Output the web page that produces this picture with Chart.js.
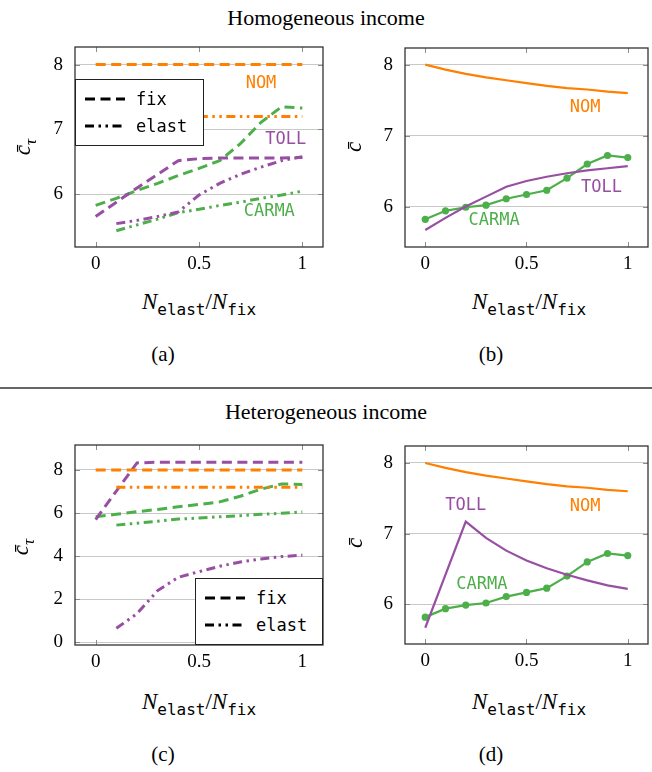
<!DOCTYPE html>
<html>
<head>
<meta charset="utf-8">
<script src="https://cdn.jsdelivr.net/npm/chart.js@4.4.0/dist/chart.umd.min.js"></script>
<style>
    body { margin: 0; width: 652px; height: 772px; position: relative; overflow: hidden; background: #fff;
           font-family: "Liberation Serif", "Times New Roman", serif; color: #000; }
    canvas { position: absolute; }
    .txt { position: absolute; white-space: nowrap; text-align: center; line-height: 1; }
    .title { left: 0; width: 652px; font-size: 22px; }
    .ylab { width: 60px; height: 26px; font-size: 23px; font-style: italic; transform: rotate(-90deg); }
    .ylab sub { font-size: 17px; }
    .xlab { width: 200px; font-size: 23px; }
    .xlab i { font-style: italic; }
    .xlab sub { font-family: "DejaVu Sans Mono", monospace; font-size: 16px; }
    .cap { width: 60px; font-size: 21px; }
    .rule { position: absolute; left: 0; width: 652px; top: 387px; height: 2px; background: #666; }
    .legend { position: absolute; background: #fff; border: 1px solid #222; box-sizing: border-box; }
</style>
</head>
<body>

<div class="txt title" style="top:7px">Homogeneous income</div>
<div class="txt title" style="top:401px">Heterogeneous income</div>
<div class="rule"></div>

<canvas id="chartA" width="330" height="280" style="left:0;top:0"></canvas>
<canvas id="chartB" width="322" height="280" style="left:330px;top:0"></canvas>
<canvas id="chartC" width="330" height="280" style="left:0;top:400px"></canvas>
<canvas id="chartD" width="322" height="280" style="left:330px;top:400px"></canvas>

<div class="txt ylab" style="left:-6px;top:134px">c&#772;<sub>τ</sub></div>
<div class="txt ylab" style="left:325px;top:134px">c&#772;</div>
<div class="txt ylab" style="left:-8px;top:534px">c&#772;<sub>τ</sub></div>
<div class="txt ylab" style="left:326px;top:530px">c&#772;</div>

<div class="txt xlab" style="left:99px;top:290px"><i>N</i><sub>elast</sub>/<i>N</i><sub>fix</sub></div>
<div class="txt xlab" style="left:429px;top:290px"><i>N</i><sub>elast</sub>/<i>N</i><sub>fix</sub></div>
<div class="txt xlab" style="left:99px;top:690px"><i>N</i><sub>elast</sub>/<i>N</i><sub>fix</sub></div>
<div class="txt xlab" style="left:429px;top:690px"><i>N</i><sub>elast</sub>/<i>N</i><sub>fix</sub></div>

<div class="txt cap" style="left:133px;top:344px">(a)</div>
<div class="txt cap" style="left:461px;top:344px">(b)</div>
<div class="txt cap" style="left:133px;top:744px">(c)</div>
<div class="txt cap" style="left:461px;top:744px">(d)</div>

<div id="legendA" class="legend" style="left:75px;top:79px;width:129px;height:67px"></div>
<div id="legendC" class="legend" style="left:195px;top:578px;width:128px;height:67px"></div>

<script>
// 橫軸: N_elast / N_fix
const xAll = [0, 0.1, 0.2, 0.3, 0.4, 0.5, 0.6, 0.7, 0.8, 0.9, 1];
const xElast = [0.1, 0.2, 0.3, 0.4, 0.5, 0.6, 0.7, 0.8, 0.9, 1];
const xTicks = [0, 0.5, 1];

// (a) 同質收入, c̄_τ
const aNomFix = [8, 8, 8, 8, 8, 8, 8, 8, 8, 8, 8];
const aNomElast = [7.2, 7.2, 7.2, 7.2, 7.2, 7.2, 7.2, 7.2, 7.2, 7.2];
const aTollFix = [5.66, 5.88, 6.10, 6.31, 6.52, 6.55, 6.56, 6.56, 6.56, 6.56, 6.57];
const aTollElast = [5.55, 5.60, 5.66, 5.73, 5.99, 6.17, 6.31, 6.42, 6.52, 6.58];
const carmaFix = [5.83, 5.94, 6.06, 6.17, 6.29, 6.40, 6.52, 6.78, 7.11, 7.35, 7.33];
const carmaElast = [5.44, 5.53, 5.62, 5.72, 5.77, 5.83, 5.88, 5.94, 5.99, 6.05];
const aTicksY = [6, 7, 8];

// (b) 同質收入, c̄
const nomCost = [8.00, 7.93, 7.87, 7.82, 7.78, 7.74, 7.70, 7.67, 7.65, 7.62, 7.60];
const bTollCost = [5.67, 5.84, 6.00, 6.14, 6.28, 6.36, 6.42, 6.47, 6.51, 6.54, 6.57];
const carmaCost = [5.82, 5.94, 5.99, 6.02, 6.11, 6.17, 6.23, 6.40, 6.60, 6.72, 6.69];
const bTicksY = [6, 7, 8];

// (c) 異質收入, c̄_τ
const cNomFix = [8, 8, 8, 8, 8, 8, 8, 8, 8, 8, 8];
const cNomElast = [7.2, 7.2, 7.2, 7.2, 7.2, 7.2, 7.2, 7.2, 7.2, 7.2];
const cTollFix = [5.70, 7.02, 8.33, 8.36, 8.36, 8.36, 8.36, 8.36, 8.36, 8.36, 8.36];
const cTollElast = [0.65, 1.33, 2.40, 3.02, 3.28, 3.53, 3.73, 3.87, 3.98, 4.05];
const cTicksY = [0, 2, 4, 6, 8];

// (d) 異質收入, c̄
const dTollCost = [5.67, 6.42, 7.17, 6.94, 6.76, 6.62, 6.51, 6.42, 6.34, 6.27, 6.22];

const ORANGE = '#ff7f00';
const PURPLE = '#984ea3';
const GREEN = '#4daf4a';
const DASH_FIX = [10, 5.5];
const DASH_ELAST = [9, 4.5, 2.5, 4.5, 2.5, 4.5];

const tickFont = { family: '"Liberation Serif", serif', size: 19 };

function toPoints(xs, ys) {
    return xs.map((x, i) => ({ x: x, y: ys[i] }));
}

// 外框與向內的刻度短線
const framePlugin = {
    id: 'frame',
    afterDatasetsDraw(chart) {
        const { ctx, chartArea: a, scales } = chart;
        ctx.save();
        ctx.strokeStyle = '#8c8c8c';
        ctx.lineWidth = 1;
        ctx.beginPath();
        scales.x.ticks.forEach(t => {
            const px = Math.round(scales.x.getPixelForValue(t.value)) + 0.5;
            ctx.moveTo(px, a.top); ctx.lineTo(px, a.top + 5);
            ctx.moveTo(px, a.bottom); ctx.lineTo(px, a.bottom - 5);
        });
        scales.y.ticks.forEach(t => {
            const py = Math.round(scales.y.getPixelForValue(t.value)) + 0.5;
            ctx.moveTo(a.left, py); ctx.lineTo(a.left + 5, py);
            ctx.moveTo(a.right, py); ctx.lineTo(a.right - 5, py);
        });
        ctx.stroke();
        ctx.strokeStyle = '#333';
        ctx.lineWidth = 1.3;
        ctx.strokeRect(a.left, a.top, a.right - a.left, a.bottom - a.top);
        ctx.restore();
    }
};

// 曲線旁的名稱 (NOM / TOLL / CARMA)
const lineLabelPlugin = {
    id: 'lineLabels',
    afterDatasetsDraw(chart, args, opts) {
        const items = opts.items || [];
        const { ctx, scales } = chart;
        ctx.save();
        ctx.font = '17px "DejaVu Sans Mono", monospace';
        ctx.textAlign = 'center';
        ctx.textBaseline = 'middle';
        items.forEach(it => {
            ctx.fillStyle = it.color;
            ctx.fillText(it.text, scales.x.getPixelForValue(it.x), scales.y.getPixelForValue(it.y));
        });
        ctx.restore();
    }
};

function makeChart(id, spec) {
    const ctx = document.getElementById(id);
    return new Chart(ctx, {
        type: 'line',
        data: {
            datasets: spec.series.map(s => ({
                data: toPoints(s.xs, s.ys),
                borderColor: s.color,
                backgroundColor: s.color,
                borderWidth: s.width || 3,
                borderDash: s.dash || [],
                pointRadius: s.marker ? 3.6 : 0,
                pointBorderWidth: 0,
                tension: 0,
                fill: false
            }))
        },
        options: {
            responsive: false,
            animation: false,
            layout: { padding: spec.padding },
            plugins: {
                legend: { display: false },
                tooltip: { enabled: false },
                lineLabels: { items: spec.labels || [] }
            },
            scales: {
                x: {
                    type: 'linear', min: -0.1, max: 1.1,
                    afterBuildTicks: s => { s.ticks = xTicks.map(v => ({ value: v })); },
                    afterFit: s => { s.height = spec.xHeight; },
                    grid: { display: false, drawTicks: false },
                    border: { display: false },
                    ticks: { font: tickFont, color: '#000', padding: 6, maxRotation: 0, callback: v => String(v) }
                },
                y: {
                    type: 'linear', min: spec.yMin, max: spec.yMax,
                    afterBuildTicks: s => { s.ticks = spec.yTicks.map(v => ({ value: v })); },
                    afterFit: s => { s.width = 75; },
                    grid: { color: '#c8c8c8', lineWidth: 1, drawTicks: false },
                    border: { display: false },
                    ticks: { font: tickFont, color: '#000', padding: 12, callback: v => String(v) }
                }
            }
        },
        plugins: [framePlugin, lineLabelPlugin]
    });
}

// (a)
makeChart('chartA', {
    padding: { top: 47, right: 7, left: 0, bottom: 0 },
    xHeight: 33, yMin: 5.19, yMax: 8.27, yTicks: aTicksY,
    series: [
        { xs: xAll, ys: aNomFix, color: ORANGE, dash: DASH_FIX },
        { xs: xElast, ys: aNomElast, color: ORANGE, dash: DASH_ELAST },
        { xs: xAll, ys: aTollFix, color: PURPLE, dash: DASH_FIX },
        { xs: xElast, ys: aTollElast, color: PURPLE, dash: DASH_ELAST },
        { xs: xAll, ys: carmaFix, color: GREEN, dash: DASH_FIX },
        { xs: xElast, ys: carmaElast, color: GREEN, dash: DASH_ELAST }
    ],
    labels: [
        { text: 'NOM', x: 0.80, y: 7.71, color: ORANGE },
        { text: 'TOLL', x: 0.92, y: 6.84, color: PURPLE },
        { text: 'CARMA', x: 0.84, y: 5.73, color: GREEN }
    ]
});

// (b)
makeChart('chartB', {
    padding: { top: 48, right: 1, left: 0, bottom: 0 },
    xHeight: 33, yMin: 5.43, yMax: 8.235, yTicks: bTicksY,
    series: [
        { xs: xAll, ys: nomCost, color: ORANGE, width: 2.2 },
        { xs: xAll, ys: bTollCost, color: PURPLE, width: 2.2 },
        { xs: xAll, ys: carmaCost, color: GREEN, width: 2.2, marker: true }
    ],
    labels: [
        { text: 'NOM', x: 0.79, y: 7.39, color: ORANGE },
        { text: 'TOLL', x: 0.87, y: 6.27, color: PURPLE },
        { text: 'CARMA', x: 0.34, y: 5.80, color: GREEN }
    ]
});

// (c)
makeChart('chartC', {
    padding: { top: 45, right: 7, left: 0, bottom: 0 },
    xHeight: 35, yMin: -0.125, yMax: 9.16, yTicks: cTicksY,
    series: [
        { xs: xAll, ys: cNomFix, color: ORANGE, dash: DASH_FIX },
        { xs: xElast, ys: cNomElast, color: ORANGE, dash: DASH_ELAST },
        { xs: xAll, ys: cTollFix, color: PURPLE, dash: DASH_FIX },
        { xs: xElast, ys: cTollElast, color: PURPLE, dash: DASH_ELAST },
        { xs: xAll, ys: carmaFix, color: GREEN, dash: DASH_FIX },
        { xs: xElast, ys: carmaElast, color: GREEN, dash: DASH_ELAST }
    ]
});

// (d)
makeChart('chartD', {
    padding: { top: 46, right: 1, left: 0, bottom: 0 },
    xHeight: 36, yMin: 5.44, yMax: 8.24, yTicks: bTicksY,
    series: [
        { xs: xAll, ys: nomCost, color: ORANGE, width: 2.2 },
        { xs: xAll, ys: dTollCost, color: PURPLE, width: 2.2 },
        { xs: xAll, ys: carmaCost, color: GREEN, width: 2.2, marker: true }
    ],
    labels: [
        { text: 'TOLL', x: 0.20, y: 7.40, color: PURPLE },
        { text: 'NOM', x: 0.79, y: 7.39, color: ORANGE },
        { text: 'CARMA', x: 0.28, y: 6.28, color: GREEN }
    ]
});

// 圖例: fix / elast 線型
function drawLegend(id) {
    const el = document.getElementById(id);
    const w = el.clientWidth;
    el.innerHTML =
        '<svg width="' + w + '" height="65" style="display:block">' +
        '<line x1="9" y1="19" x2="49" y2="19" stroke="#000" stroke-width="3" stroke-dasharray="' + DASH_FIX.join(' ') + '"/>' +
        '<line x1="9" y1="46" x2="49" y2="46" stroke="#000" stroke-width="3" stroke-dasharray="' + DASH_ELAST.join(' ') + '"/>' +
        '<text x="60" y="25" font-family="DejaVu Sans Mono, monospace" font-size="17">fix</text>' +
        '<text x="60" y="52" font-family="DejaVu Sans Mono, monospace" font-size="17">elast</text>' +
        '</svg>';
}
drawLegend('legendA');
drawLegend('legendC');
</script>
</body>
</html>
